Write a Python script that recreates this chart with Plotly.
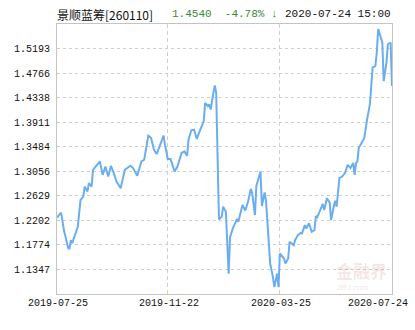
import plotly.graph_objects as go

# trading-day index (0 = 2019-07-25, 242 = 2020-07-24) and unit NAV
day_idx = [0, 3, 5, 8, 9, 10, 11, 13, 15, 17, 19, 20, 22, 23, 25, 26, 29, 31, 33, 35,
           37, 39, 41, 43, 46, 47, 49, 53, 55, 58, 61, 63, 66, 68, 70, 72, 74, 77, 78, 80,
           82, 85, 87, 90, 92, 94, 95, 97, 99, 101, 103, 106, 107, 109, 110, 111, 113, 114, 115, 117,
           119, 120, 122, 124, 125, 127, 130, 131, 134, 136, 138, 140, 141, 143, 144, 147, 148, 150, 151, 154,
           156, 157, 159, 160, 161, 164, 165, 167, 168, 171, 172, 174, 176, 177, 179, 180, 182, 184, 186, 187,
           188, 190, 192, 193, 195, 197, 198, 200, 201, 202, 204, 206, 208, 210, 212, 214, 215, 216, 217, 218,
           221, 222, 224, 226, 227, 228, 230, 231, 232, 234, 235, 236, 238, 239, 241, 242]
nav = [1.2251, 1.2335, 1.2032, 1.1730, 1.1700, 1.1857, 1.1805, 1.1945, 1.2090, 1.2557,
       1.2615, 1.2790, 1.2702, 1.2849, 1.2790, 1.3082, 1.3169, 1.3227, 1.2994, 1.3139,
       1.2965, 1.3152, 1.3024, 1.2877, 1.2762, 1.2877, 1.3082, 1.3152, 1.3112, 1.2977,
       1.3227, 1.3257, 1.3676, 1.3636, 1.3432, 1.3356, 1.3479, 1.3676, 1.3519, 1.3269,
       1.3269, 1.3052, 1.3139, 1.3374, 1.3402, 1.3327, 1.3607, 1.3769, 1.3781, 1.3619,
       1.3752, 1.3927, 1.4248, 1.4189, 1.4219, 1.4131, 1.4423, 1.4551, 1.4423, 1.2219,
       1.2265, 1.2440, 1.2352, 1.1275, 1.1910, 1.2062, 1.2225, 1.2177, 1.2470, 1.2373,
       1.2527, 1.2749, 1.2674, 1.2295, 1.2802, 1.3052, 1.2452, 1.2688, 1.2540, 1.1450,
       1.1215, 1.1040, 1.1275, 1.1040, 1.1625, 1.1537, 1.1450, 1.1537, 1.1828, 1.1770,
       1.1857, 1.1945, 1.1985, 1.1975, 1.2120, 1.2062, 1.2149, 1.2003, 1.2032, 1.2277,
       1.2254, 1.2382, 1.2487, 1.2382, 1.2587, 1.2510, 1.2207, 1.2452, 1.2545, 1.2440,
       1.2937, 1.2965, 1.3024, 1.3169, 1.3112, 1.3199, 1.2994, 1.3199, 1.3227, 1.3461,
       1.3577, 1.3636, 1.3956, 1.4219, 1.4539, 1.4861, 1.4889, 1.5123, 1.5531, 1.5356,
       1.5298, 1.4626, 1.4948, 1.5268, 1.5298, 1.4540]

y_ticks = [1.1347, 1.1774, 1.2202, 1.2629, 1.3056, 1.3484, 1.3911, 1.4338, 1.4766, 1.5193]
y_range = [1.0920, 1.5620]
x_tick_idx = [0, 80, 161, 242]
x_tick_labels = ["2019-07-25", "2019-11-22", "2020-03-25", "2020-07-24"]

fund_name = "景顺蓝筹[260110]"
last_nav = "1.4540"
change = "-4.78% ↓"
timestamp = "2020-07-24 15:00"

mono = "Liberation Mono, DejaVu Sans Mono, monospace"
grid_col = "#cfcfcf"

fig = go.Figure()
fig.add_trace(go.Scatter(x=day_idx, y=nav, mode="lines",
                         line=dict(color="#6aaef2", width=2), hoverinfo="skip"))

fig.update_layout(
    width=415, height=330,
    margin=dict(l=57, r=23, t=24, b=36),
    paper_bgcolor="white", plot_bgcolor="white",
    showlegend=False,
    xaxis=dict(range=[0, 242], tickvals=x_tick_idx, showticklabels=False,
               showgrid=True, gridcolor=grid_col, griddash="4px,3px", gridwidth=1,
               showline=True, linecolor="#c4c4c4", linewidth=1, mirror=True,
               zeroline=False, ticks=""),
    yaxis=dict(range=y_range, tickvals=y_ticks, ticktext=[f"{v:.4f}" for v in y_ticks],
               showgrid=True, gridcolor=grid_col, griddash="3px,3px", gridwidth=1,
               showline=True, linecolor="#c4c4c4", linewidth=1, mirror=True,
               zeroline=False, ticks="", ticklabelstandoff=4,
               tickfont=dict(family=mono, size=10, color="#111")),
)

# x tick labels
for i, (xi, lab) in enumerate(zip(x_tick_idx, x_tick_labels)):
    last = i == len(x_tick_idx) - 1
    fig.add_annotation(x=xi, y=0, xref="x", yref="paper", text=lab, showarrow=False,
                       xanchor="right" if last else "center", yanchor="top",
                       xshift=18 if last else 1, yshift=-2,
                       font=dict(family=mono, size=10, color="#111"))

# header
fig.add_annotation(x=55, y=14, xref="paper", yref="paper", text="", showarrow=False)
fig.layout.annotations = fig.layout.annotations[:-1]
hdr_y = 1 + 10 / 270
fig.add_annotation(x=-2 / 335, y=hdr_y, xref="paper", yref="paper", text=fund_name,
                   showarrow=False, xanchor="left", yanchor="middle",
                   font=dict(family="Noto Sans CJK SC", size=12, color="#111"))
fig.add_annotation(x=113 / 335, y=hdr_y, xref="paper", yref="paper",
                   text=last_nav + "&nbsp;&nbsp;" + change, showarrow=False,
                   xanchor="left", yanchor="middle",
                   font=dict(family=mono, size=11, color="#3a8a3a"))
fig.add_annotation(x=226 / 335, y=hdr_y, xref="paper", yref="paper", text=timestamp,
                   showarrow=False, xanchor="left", yanchor="middle",
                   font=dict(family=mono, size=11, color="#111"))

# watermark
fig.add_annotation(x=1, y=0, xref="paper", yref="paper", text="<b>金融界</b>",
                   showarrow=False, xanchor="right", yanchor="bottom", xshift=-3, yshift=9,
                   font=dict(family="Noto Sans CJK SC", size=17, color="rgba(200,90,90,0.16)"))
fig.add_annotation(x=1, y=0, xref="paper", yref="paper", text="<i>JRJ.com</i>",
                   showarrow=False, xanchor="right", yanchor="bottom", xshift=-22, yshift=0,
                   font=dict(family="Liberation Sans", size=8, color="rgba(200,90,90,0.2)"))

fig.write_html("out.html")
